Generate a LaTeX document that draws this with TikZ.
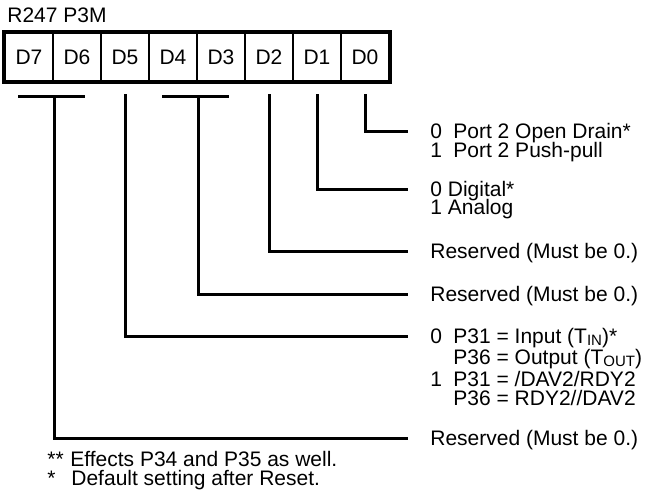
\documentclass[tikz,border=0pt]{standalone}
\usepackage{fontspec}
\setmainfont{Liberation Sans}
\usepackage{tikz}

\tikzset{
  bitcell/.style={draw, line width=1pt, minimum width=24pt, minimum height=24pt, inner sep=0pt},
  wire/.style={line width=1.5pt},
  lbl/.style={anchor=west, inner sep=0pt, text height=7.4pt, text depth=0pt},
}
\newcommand{\sbs}[1]{\raisebox{-0.2ex}{\fontsize{7.5}{7.5}\selectfont #1}}

\begin{document}
\begin{tikzpicture}[x=0.5pt, y=-0.5pt, font=\fontsize{10.5}{12}\selectfont]
  \useasboundingbox (0,0) rectangle (655,495);
  \node[lbl] (title) at (7,15) {R247 P3M};
  \node[bitcell] (d7) at (29,57) {D7};
  \node[bitcell] (d6) at (77,57) {D6};
  \node[bitcell] (d5) at (125,57) {D5};
  \node[bitcell] (d4) at (173,57) {D4};
  \node[bitcell] (d3) at (221,57) {D3};
  \node[bitcell] (d2) at (269,57) {D2};
  \node[bitcell] (d1) at (317,57) {D1};
  \node[bitcell] (d0) at (365,57) {D0};
  \draw[line width=1.6pt] (d7.north west) rectangle (d0.south east);

  \node[lbl] (o0) at (430,131) {0};
  \node[lbl] (t0) at (453,131) {Port 2 Open Drain*};
  \node[lbl] (o0b) at (430,150) {1};
  \node[lbl] (t0b) at (453,150) {Port 2 Push-pull};
  \node[lbl] (t1) at (430,189) {0 Digital*};
  \node[lbl] (t1b) at (430,207) {1 Analog};
  \node[lbl] (t2) at (430,251) {Reserved (Must be 0.)};
  \node[lbl] (t43) at (430,294) {Reserved (Must be 0.)};
  \node[lbl] (o5) at (430,336) {0};
  \node[lbl] (t5) at (453,336) {P31 = Input (T\sbs{IN})*};
  \node[lbl] (t5b) at (453,357) {P36 = Output (T\sbs{OUT})};
  \node[lbl] (o5c) at (430,379) {1};
  \node[lbl] (t5c) at (453,379) {P31 = /DAV2/RDY2};
  \node[lbl] (t5d) at (453,398) {P36 = RDY2//DAV2};
  \node[lbl] (t76) at (430,438) {Reserved (Must be 0.)};
  \node[lbl] (s1) at (47,459) {**};
  \node[lbl] (f1) at (70,459) {Effects P34 and P35 as well.};
  \node[lbl] (s2) at (47,478) {*};
  \node[lbl] (f2) at (71,478) {Default setting after Reset.};

  \coordinate (b76) at ([yshift=-7pt]d7.south east);
  \coordinate (b43) at ([yshift=-7pt]d4.south east);
  \coordinate (b5) at ([yshift=-6pt]d5.south);
  \coordinate (b2) at ([yshift=-6pt]d2.south);
  \coordinate (b1) at ([yshift=-6pt]d1.south);
  \coordinate (b0) at ([yshift=-6pt]d0.south);
  \draw[wire] ([xshift=-18pt]b76) -- ([xshift=15.5pt]b76);
  \draw[wire] ([xshift=-18pt]b43) -- ([xshift=15.5pt]b43);

  \draw[wire] (b0) |- ([xshift=-11pt]o0.west);
  \draw[wire] (b1) |- ([xshift=-11pt]t1.west);
  \draw[wire] (b2) |- ([xshift=-11pt]t2.west);
  \draw[wire] (b43) |- ([xshift=-11pt]t43.west);
  \draw[wire] (b5) |- ([xshift=-11pt]o5.west);
  \draw[wire] (b76) |- ([xshift=-11pt]t76.west);
\end{tikzpicture}
\end{document}
